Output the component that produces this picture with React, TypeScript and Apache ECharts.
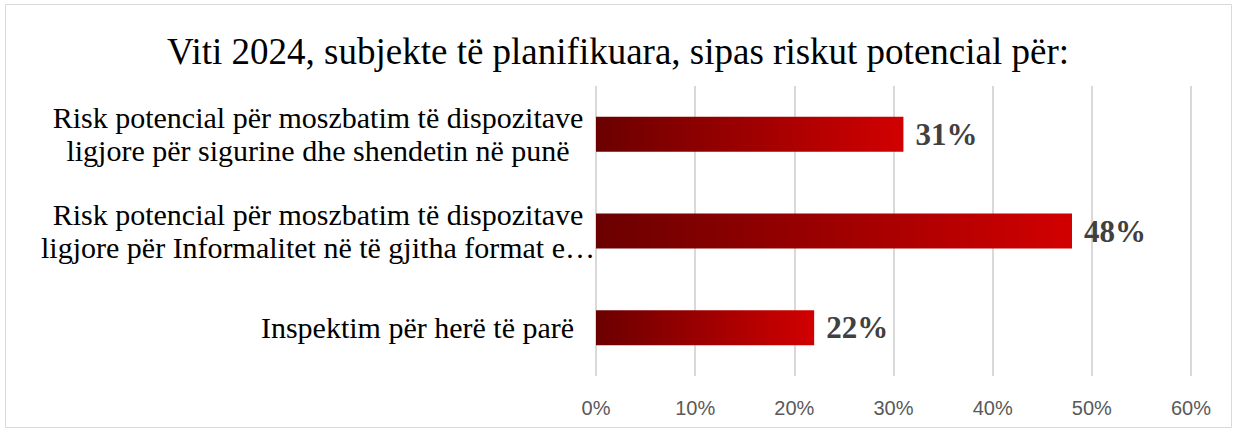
import React, { useEffect, useRef } from "react";
import * as echarts from "echarts";

const titleText = "Viti 2024, subjekte të planifikuara, sipas riskut potencial për:";
const categories = [
  "Inspektim për herë të parë",
  "Risk potencial për moszbatim të dispozitave\nligjore për Informalitet në të gjitha format e…",
  "Risk potencial për moszbatim të dispozitave\nligjore për sigurine dhe shendetin në punë",
];
const values = [0.22, 0.48, 0.31];
const axisMax = 0.6;
const axisStep = 0.1;

export default function App() {
  const ref = useRef<HTMLDivElement>(null);
  useEffect(() => {
    if (!ref.current) return;
    const chart = echarts.init(ref.current, undefined, { renderer: "svg" });
    const serif = "'Liberation Serif', 'Times New Roman', serif";
    chart.setOption({
      animation: false,
      backgroundColor: "#ffffff",
      title: {
        text: titleText,
        left: "center",
        top: 28,
        textStyle: { fontFamily: serif, fontSize: 37, fontWeight: "normal", color: "#000000" },
      },
      graphic: [
        {
          type: "rect",
          shape: { x: 5.5, y: 4.5, width: 1226, height: 423 },
          style: { fill: "none", stroke: "#d9d9d9", lineWidth: 1 },
          silent: true,
        },
      ],
      grid: { left: 596, right: 45, top: 86, bottom: 54, containLabel: false, outerBoundsMode: "none" },
      xAxis: {
        type: "value",
        min: 0,
        max: axisMax,
        interval: axisStep,
        axisLine: { show: false },
        axisTick: { show: false },
        splitLine: { show: true, lineStyle: { color: "#d9d9d9", width: 2 } },
        axisLabel: {
          formatter: (v: number) => Math.round(v * 100) + "%",
          color: "#595959",
          fontFamily: "'Liberation Sans', Arial, sans-serif",
          fontSize: 20,
          margin: 22,
        },
      },
      yAxis: {
        type: "category",
        data: categories,
        axisLine: { show: false },
        axisTick: { show: false },
        axisLabel: {
          interval: 0,
          align: "center",
          margin: 278,
          color: "#000000",
          fontFamily: serif,
          fontSize: 30,
          lineHeight: 33,
          formatter: (v: string) => (v.indexOf("\n") < 0 ? "{p|" + v + "}" : v),
          rich: {
            p: {
              padding: [0, 0, 0, 199],
              color: "#000000",
              fontFamily: serif,
              fontSize: 30,
              lineHeight: 33,
            },
          },
        },
      },
      series: [
        {
          type: "bar",
          data: values,
          barWidth: 35,
          itemStyle: {
            color: new echarts.graphic.LinearGradient(0, 0, 1, 0, [
              { offset: 0, color: "#6b0000" },
              { offset: 0.5, color: "#9e0000" },
              { offset: 1, color: "#d20000" },
            ]),
          },
          label: {
            show: true,
            position: "right",
            distance: 12,
            formatter: (p: any) => Math.round(p.value * 100) + "%",
            color: "#404040",
            fontFamily: serif,
            fontWeight: "bold",
            fontSize: 31,
          },
        },
      ],
    });
    return () => chart.dispose();
  }, []);
  return (
    <div
      ref={ref}
      style={{ position: "fixed", left: 0, top: 0, width: 1236, height: 430 }}
    />
  );
}
